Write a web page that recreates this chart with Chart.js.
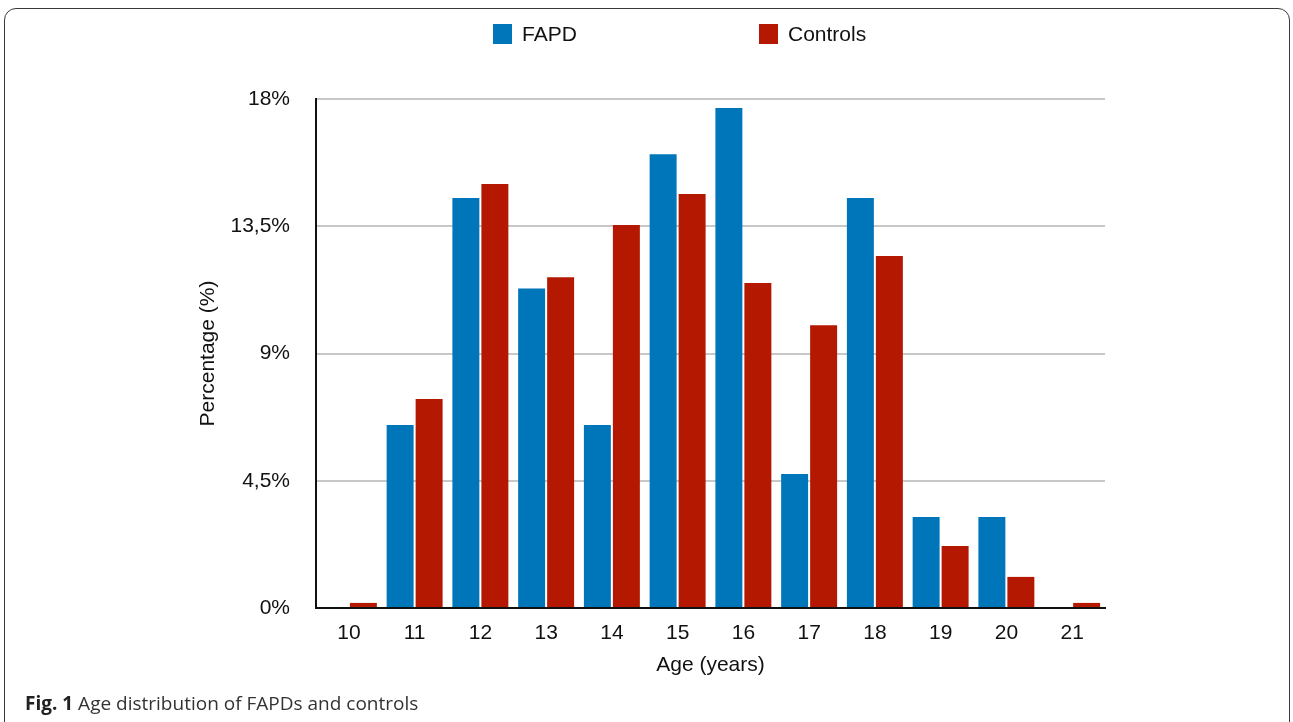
<!DOCTYPE html>
<html>
<head>
<meta charset="utf-8">
<script src="https://cdn.jsdelivr.net/npm/chart.js@4/dist/chart.umd.min.js"></script>
<style>
  html, body { margin: 0; padding: 0; background: #fff; }
  #wrap { position: relative; width: 1293px; height: 722px; overflow: hidden; }
  #frame { position: absolute; left: 4px; top: 8px; width: 1286px; height: 740px; border: 1.5px solid #3a3a3a; border-radius: 12px; box-sizing: border-box; }
  canvas { position: absolute; left: 0; top: 0; }
  .leg { position: absolute; top: 22px; font-family: "Liberation Sans", Arial, sans-serif; font-size: 21px; color: #111; display: flex; align-items: center; height: 24px; }
  .leg span.box { display: inline-block; width: 19px; height: 20px; margin-right: 10px; }
  #caption { position: absolute; left: 25px; top: 690px; font-family: "Open Sans", sans-serif; font-size: 19px; color: #333; white-space: nowrap; }
  #caption b { color: #222; }
</style>
</head>
<body>
<div id="wrap">
  <div id="frame"></div>
  <canvas id="c" width="1293" height="722"></canvas>
  <div class="leg" id="leg0" style="left:493px"></div>
  <div class="leg" id="leg1" style="left:759px"></div>
  <div id="caption"><b>Fig. 1</b> Age distribution of FAPDs and controls</div>
</div>
<script>
const categories = ['10','11','12','13','14','15','16','17','18','19','20','21'];
const seriesNames = ['FAPD', 'Controls'];
const fapd = [0, 6.47, 14.5, 11.3, 6.47, 16.05, 17.68, 4.74, 14.5, 3.22, 3.22, 0];
const controls = [0.18, 7.39, 14.99, 11.7, 13.54, 14.64, 11.49, 10.0, 12.45, 2.19, 1.1, 0.18];
const yTicks = [0, 4.5, 9, 13.5, 18];
const colors = ['#0076BA', '#B41800'];

[0,1].forEach(i => {
  const el = document.getElementById('leg' + i);
  el.innerHTML = '<span class="box" style="background:' + colors[i] + '"></span>' + seriesNames[i];
});

const font = { family: '"Liberation Sans", Arial, sans-serif', size: 21 };

new Chart(document.getElementById('c'), {
  type: 'bar',
  data: {
    labels: categories,
    datasets: [
      { label: seriesNames[0], data: fapd, backgroundColor: colors[0], categoryPercentage: 0.882, barPercentage: 0.93 },
      { label: seriesNames[1], data: controls, backgroundColor: colors[1], categoryPercentage: 0.882, barPercentage: 0.93 }
    ]
  },
  options: {
    responsive: false,
    animation: false,
    layout: { padding: { left: 196, right: 188, top: 99, bottom: 44 } },
    plugins: { legend: { display: false }, tooltip: { enabled: false } },
    scales: {
      x: {
        grid: { display: false, drawTicks: false },
        border: { color: '#111', width: 2 },
        ticks: { color: '#111', font: font, padding: 13, maxRotation: 0 },
        title: { display: true, text: 'Age (years)', color: '#111', font: font, padding: { top: 0, bottom: 0 } },
        afterFit: s => { s.height = 70; }
      },
      y: {
        min: 0, max: 18,
        afterBuildTicks: s => { s.ticks = yTicks.map(v => ({ value: v })); },
        grid: { color: '#c8c8c8', lineWidth: 2, drawTicks: false },
        border: { color: '#111', width: 2 },
        ticks: { color: '#111', font: font, padding: 26, callback: v => String(v).replace('.', ',') + '%' },
        title: { display: true, text: 'Percentage (%)', color: '#111', font: font, padding: { top: 0, bottom: 0 } },
        afterFit: s => { s.width = 120; }
      }
    }
  }
});
</script>
</body>
</html>
